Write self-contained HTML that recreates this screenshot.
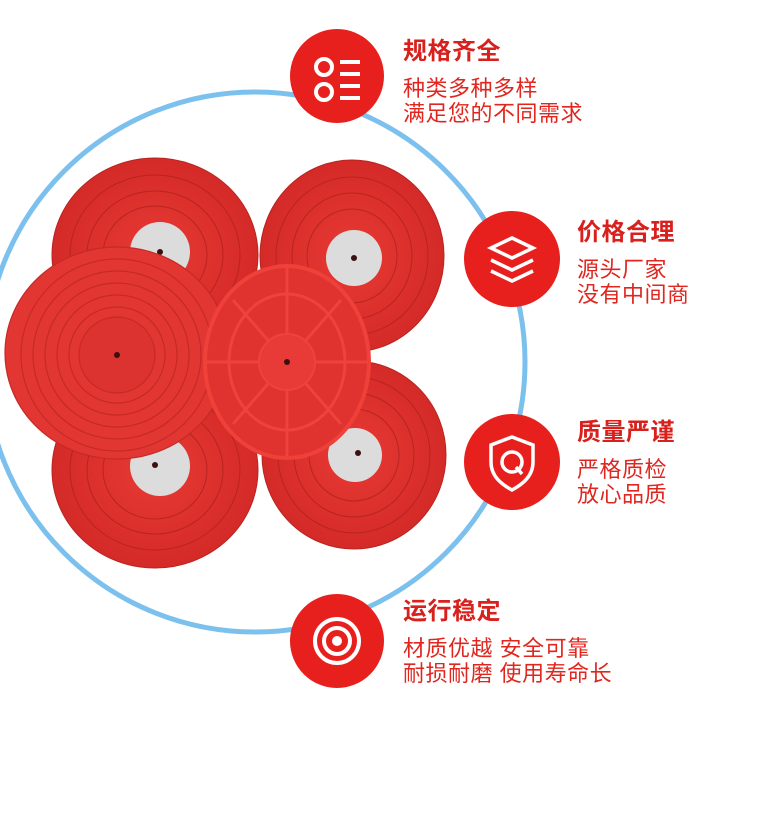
<!DOCTYPE html>
<html><head><meta charset="utf-8"><style>
body{margin:0;width:781px;height:822px;background:#fff;overflow:hidden;position:relative;font-family:"Liberation Sans","Noto Sans CJK SC",sans-serif}
.t{position:absolute;color:#d8201c;font-weight:bold;font-size:24px;line-height:26px;letter-spacing:0.5px}
.s{position:absolute;color:#e0261f;font-size:22px;line-height:25px;letter-spacing:0.5px}
svg{position:absolute;left:0;top:0}
</style></head><body>
<svg width="781" height="822">
<defs>
<radialGradient id="g" cx="50%" cy="50%" r="50%"><stop offset="0" stop-color="#e83a34"/><stop offset="1" stop-color="#d42a28"/></radialGradient>
</defs>
<circle cx="255" cy="362" r="270" fill="none" stroke="#7cc0ee" stroke-width="5"/>
<g stroke="#b82420" stroke-width="1" fill="none">
<ellipse cx="155" cy="255" rx="103" ry="97" fill="url(#g)"/>
<ellipse cx="155" cy="255" rx="85" ry="80"/><ellipse cx="155" cy="255" rx="68" ry="64"/><ellipse cx="155" cy="255" rx="52" ry="49"/>
<ellipse cx="352" cy="256" rx="92" ry="96" fill="url(#g)"/>
<ellipse cx="352" cy="256" rx="76" ry="79"/><ellipse cx="352" cy="256" rx="60" ry="63"/><ellipse cx="352" cy="256" rx="45" ry="47"/>
<ellipse cx="155" cy="470" rx="103" ry="98" fill="url(#g)"/>
<ellipse cx="155" cy="470" rx="85" ry="80"/><ellipse cx="155" cy="470" rx="68" ry="64"/><ellipse cx="155" cy="470" rx="52" ry="49"/>
<ellipse cx="354" cy="455" rx="92" ry="94" fill="url(#g)"/>
<ellipse cx="354" cy="455" rx="76" ry="78"/><ellipse cx="354" cy="455" rx="60" ry="62"/><ellipse cx="354" cy="455" rx="45" ry="46"/>
</g>
<g fill="#dcdcdc"><circle cx="160" cy="252" r="30"/><circle cx="354" cy="258" r="28"/><circle cx="160" cy="466" r="30"/><circle cx="355" cy="455" r="27"/></g>
<g fill="#3a1010"><circle cx="160" cy="252" r="3"/><circle cx="354" cy="258" r="3"/><circle cx="155" cy="465" r="3"/><circle cx="358" cy="453" r="3"/></g>
<g stroke="#c52a26" stroke-width="1.2" fill="none">
<ellipse cx="117" cy="353" rx="112" ry="106" fill="#e23633"/>
<circle cx="117" cy="355" r="96"/><circle cx="117" cy="355" r="84"/><circle cx="117" cy="355" r="72"/><circle cx="117" cy="355" r="60"/><circle cx="117" cy="355" r="48"/><circle cx="117" cy="355" r="38" fill="#dc3230"/>
</g>
<circle cx="117" cy="355" r="3" fill="#3a1010"/>
<ellipse cx="287" cy="362" rx="82" ry="96" fill="#e0322f" stroke="#f0403a" stroke-width="4"/>
<ellipse cx="287" cy="362" rx="58" ry="68" fill="none" stroke="#ee423d" stroke-width="3"/>
<g stroke="#ee423d" stroke-width="3"><line x1="287" y1="268" x2="287" y2="456"/><line x1="206" y1="362" x2="368" y2="362"/><line x1="233" y1="300" x2="341" y2="424"/><line x1="341" y1="300" x2="233" y2="424"/></g>
<circle cx="287" cy="362" r="28" fill="#e83a36" stroke="#ee423d" stroke-width="2"/>
<circle cx="287" cy="362" r="3" fill="#3a1010"/>
<g fill="#e8201d"><circle cx="337" cy="76" r="47"/><circle cx="512" cy="259" r="48"/><circle cx="512" cy="462" r="48"/><circle cx="337" cy="641" r="47"/></g>
<g stroke="#fff" stroke-width="4" fill="none">
<circle cx="324" cy="67" r="8"/><circle cx="324" cy="92" r="8"/>
<line x1="340" y1="62" x2="360" y2="62"/><line x1="340" y1="74" x2="360" y2="74"/><line x1="340" y1="86" x2="360" y2="86"/><line x1="340" y1="98" x2="360" y2="98"/>
<path d="M491 248 L512 238 L533 248 L512 258 Z" stroke-width="3.5"/>
<path d="M491 260 L512 270 L533 260" stroke-width="3.5"/>
<path d="M491 271 L512 281 L533 271" stroke-width="3.5"/>
<path d="M512 437 L533 445 V462 C533 476 523 484 512 490 C501 484 491 476 491 462 V445 Z" stroke-width="3.5"/>
<circle cx="512" cy="462" r="10" stroke-width="3.5"/><line x1="516" y1="467" x2="522" y2="474" stroke-width="3.5"/>
<circle cx="337" cy="641" r="22" stroke-width="4"/><circle cx="337" cy="641" r="13" stroke-width="4"/>
</g>
<circle cx="337" cy="641" r="5" fill="#fff"/>
</svg>
<div class="t" style="left:403px;top:39px">规格齐全</div>
<div class="s" style="left:403px;top:76px">种类多种多样<br>满足您的不同需求</div>
<div class="t" style="left:577px;top:220px">价格合理</div>
<div class="s" style="left:577px;top:257px">源头厂家<br>没有中间商</div>
<div class="t" style="left:577px;top:420px">质量严谨</div>
<div class="s" style="left:577px;top:457px">严格质检<br>放心品质</div>
<div class="t" style="left:403px;top:599px">运行稳定</div>
<div class="s" style="left:403px;top:636px">材质优越 安全可靠<br>耐损耐磨 使用寿命长</div>
</body></html>
